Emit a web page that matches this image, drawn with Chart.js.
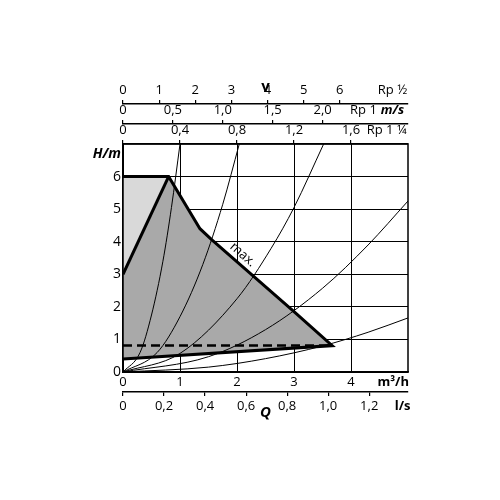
<!DOCTYPE html>
<html><head><meta charset="utf-8">
<script src="https://cdn.jsdelivr.net/npm/chart.js@4"></script>
<style>html,body{margin:0;padding:0;background:#fff}#w{width:500px;height:500px}</style>
</head><body><div id="w"><canvas id="c"></canvas></div>
<script>
// ---- data ----
const qTicks=[0,1,2,3,4], qLabels=['0','1','2','3','4'];
const lsTicks=[0,0.2,0.4,0.6,0.8,1.0,1.2], lsLabels=['0','0,2','0,4','0,6','0,8','1,0','1,2'];
const hTicks=[0,1,2,3,4,5,6], hLabels=['0','1','2','3','4','5','6'];
const vTicks=[0,1,2,3,4,5,6], vLabels=['0','1','2','3','4','5','6'];
const msTicks=[0,0.5,1.0,1.5,2.0], msLabels=['0','0,5','1,0','1,5','2,0'];
const m14Ticks=[0,0.4,0.8,1.2,1.6], m14Labels=['0','0,4','0,8','1,2','1,6'];
const lightArea=[{x:0,y:3},{x:0,y:6},{x:0.8,y:6},{x:0,y:3}];
const darkArea=[{x:0,y:3},{x:0.8,y:6},{x:1.35,y:4.4},{x:1.55,y:4.07},{x:3.02,y:1.82},{x:3.67,y:0.81},{x:0,y:0.4},{x:0,y:3}];
const maxCurve=[{x:0,y:6},{x:0.8,y:6},{x:1.35,y:4.4},{x:1.55,y:4.07},{x:3.02,y:1.82},{x:3.67,y:0.81},{x:0,y:0.4}];
const minEdge=[{x:0,y:3},{x:0.8,y:6}];
const dashedLine=[{x:0,y:0.81},{x:3.6,y:0.81}];
const sys1=[{x:0,y:0},{x:0.3,y:0.6},{x:0.5,y:1.75},{x:0.7,y:3.4},{x:0.85,y:5.05},{x:1.0,y:7}];
const sys2=[{x:0,y:0},{x:0.6,y:0.6},{x:1.0,y:1.7},{x:1.4,y:3.3},{x:1.75,y:5.15},{x:2.04,y:7}];
const sys3=[{x:0,y:0},{x:1.0,y:0.57},{x:2.0,y:2.25},{x:2.6,y:3.8},{x:3.0,y:5.05},{x:3.52,y:7}];
const sys4=[{x:0,y:0},{x:1.5,y:0.47},{x:2.5,y:1.3},{x:3.5,y:2.57},{x:4.3,y:3.9},{x:5.0,y:5.25}];
const sys5=[{x:0,y:0},{x:1.5,y:0.15},{x:2.5,y:0.41},{x:3.5,y:0.8},{x:4.3,y:1.22},{x:5.0,y:1.66}];
// end labels
const extra={
  x:[{v:4.74,t:'m³/h',b:true,i:false}],
  ls:[{v:1.363,t:'l/s',b:true,i:false}],
  y:[{v:6.7,t:'H/m',b:true,i:true}],
  va:[{v:7.46,t:'Rp ½',b:false,i:false}],
  ms:[{v:2.41,t:'Rp 1',b:false,i:false},{v:2.70,t:'m/s',b:true,i:true}],
  m14:[{v:1.85,t:'Rp 1 ¼',b:false,i:false}]
};
const FONT='"Open Sans", sans-serif';
function findExtra(key,val){return extra[key].find(e=>Math.abs(e.v-val)<1e-9);}
function mkTicks(key,vals,labels,size){
  return {
    autoSkip:false,maxRotation:0,color:'#000',padding:2,
    callback:(val)=>{const e=findExtra(key,val);if(e)return e.t;const i=vals.findIndex(v=>Math.abs(v-val)<1e-9);return i>=0?labels[i]:'';},
    font:(ctx)=>{const e=ctx.tick&&findExtra(key,ctx.tick.value);return {family:FONT,size:size,weight:e&&e.b?'bold':'normal',style:e&&e.i?'italic':'normal'};}
  };
}
function build(key,vals){return (s)=>{s.ticks=vals.map(v=>({value:v})).concat(extra[key].map(e=>({value:e.v})));};}
function gcol(key,c){return (ctx)=>ctx.tick&&findExtra(key,ctx.tick.value)?'rgba(0,0,0,0)':c;}
function topAxis(key,vals,labels,max,weight,h,title){
  return {type:'linear',position:'top',min:0,max:max,weight:weight,
    afterBuildTicks:build(key,vals),afterFit:(s)=>{s.height=h;},
    ticks:mkTicks(key,vals,labels,13),
    grid:{drawOnChartArea:false,drawTicks:true,tickLength:4,color:gcol(key,'#000'),lineWidth:1.2},
    border:{display:true,color:'#000',width:1.5},
    title:title?{display:true,text:title,color:'#000',padding:0,font:{family:FONT,size:15,weight:'bold'}}:{display:false}};
}
const line=(data,opt)=>Object.assign({type:'line',data:data,pointRadius:0,fill:false,borderColor:'#000',borderWidth:1},opt);
const frame={id:'frame',afterDraw(ch){const a=ch.chartArea,c=ch.ctx;c.save();c.strokeStyle='#000';c.lineWidth=1.5;
  c.strokeRect(a.left,a.top,a.right-a.left,a.bottom-a.top);
  const x=ch.scales.x.getPixelForValue(2.1),y=ch.scales.y.getPixelForValue(3.6);
  c.translate(x,y);c.rotate(41*Math.PI/180);c.fillStyle='#000';c.font='13px '+FONT;c.textAlign='center';c.textBaseline='middle';c.fillText('max.',0,0);c.restore();}};
new Chart(document.getElementById('c'),{
  data:{datasets:[
    line(lightArea,{fill:'shape',backgroundColor:'#d9d9d9',borderWidth:0,order:20}),
    line(darkArea,{fill:'shape',backgroundColor:'#a9a9a9',borderWidth:0,order:19}),
    line(sys1,{cubicInterpolationMode:'monotone',order:10}),
    line(sys2,{cubicInterpolationMode:'monotone',order:10}),
    line(sys3,{cubicInterpolationMode:'monotone',order:10}),
    line(sys4,{cubicInterpolationMode:'monotone',order:10}),
    line(sys5,{cubicInterpolationMode:'monotone',order:10}),
    line(dashedLine,{borderWidth:2.5,borderDash:[9,5],order:2}),
    line(minEdge,{borderWidth:3,order:1}),
    line(maxCurve,{borderWidth:3,order:1,borderJoinStyle:'miter'})
  ]},
  options:{responsive:true,maintainAspectRatio:false,animation:false,
    layout:{padding:{left:0,right:92,top:78,bottom:78}},
    plugins:{legend:{display:false},tooltip:{enabled:false}},
    scales:{
      x:{type:'linear',position:'bottom',min:0,max:5,weight:0,afterBuildTicks:build('x',qTicks),afterFit:(s)=>{s.height=20;},
        ticks:mkTicks('x',qTicks,qLabels,13),grid:{color:gcol('x','#000'),lineWidth:1,tickLength:0},border:{display:true,color:'#000',width:1.5}},
      ls:{type:'linear',position:'bottom',min:0,max:1.389,weight:1,afterBuildTicks:build('ls',lsTicks),afterFit:(s)=>{s.height=30;},
        ticks:mkTicks('ls',lsTicks,lsLabels,13),grid:{drawOnChartArea:false,tickLength:4,color:gcol('ls','#000'),lineWidth:1.2},border:{display:true,color:'#000',width:1.5},
        title:{display:true,text:'Q',color:'#000',padding:0,font:{family:FONT,size:15,weight:'bold',style:'italic'}}},
      y:{type:'linear',position:'left',min:0,max:7,afterBuildTicks:build('y',hTicks),afterFit:(s)=>{s.width=123;},
        ticks:mkTicks('y',hTicks,hLabels,14),grid:{color:gcol('y','#000'),lineWidth:1,tickLength:0},border:{display:true,color:'#000',width:1.5}},
      m14:topAxis('m14',m14Ticks,m14Labels,2.0,0,20,null),
      ms:topAxis('ms',msTicks,msLabels,2.856,1,20,null),
      va:topAxis('va',vTicks,vLabels,7.89,2,26,'v')
    }},
  plugins:[frame]
});
</script></body></html>
